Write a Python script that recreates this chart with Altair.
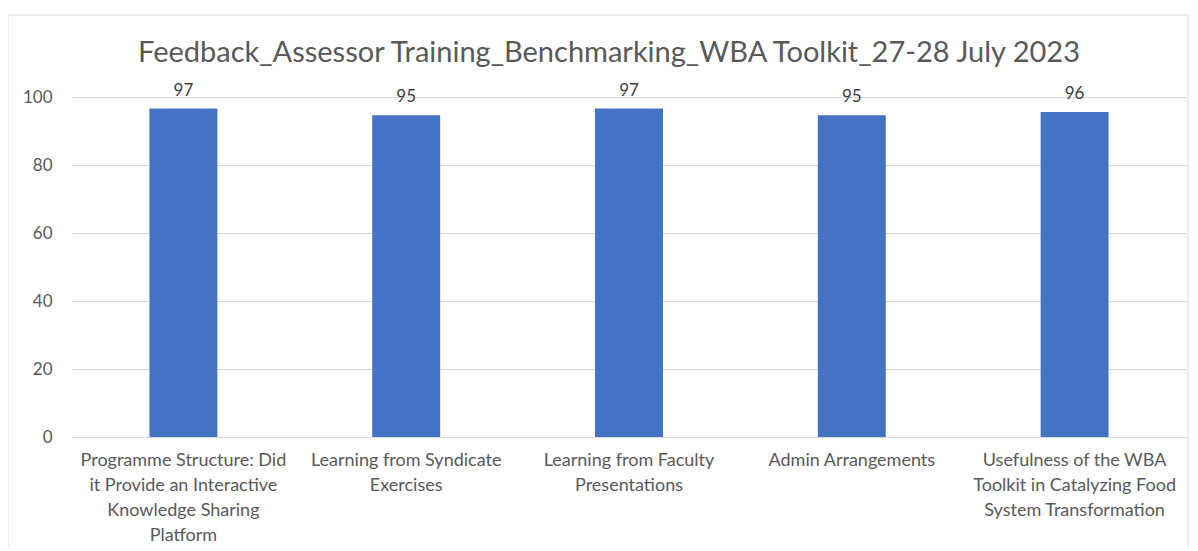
import altair as alt
import pandas as pd

categories = [
    "Programme Structure: Did it Provide an Interactive Knowledge Sharing Platform",
    "Learning from Syndicate Exercises",
    "Learning from Faculty Presentations",
    "Admin Arrangements",
    "Usefulness of the WBA Toolkit in Catalyzing Food System Transformation",
]
label_lines = [
    ["Programme Structure: Did", "it Provide an Interactive", "Knowledge Sharing", "Platform"],
    ["Learning from Syndicate", "Exercises"],
    ["Learning from Faculty", "Presentations"],
    ["Admin Arrangements"],
    ["Usefulness of the WBA", "Toolkit in Catalyzing Food", "System Transformation"],
]
values = [96.6, 94.6, 96.6, 94.6, 95.6]
y_ticks = [0, 20, 40, 60, 80, 100]
title_text = "Feedback_Assessor Training_Benchmarking_WBA Toolkit_27-28 July 2023"

df = pd.DataFrame({
    "category": categories,
    "label": ["|".join(l) for l in label_lines],
    "value": values,
})

FONT = "Lato"
GREY = "#595959"

x_enc = alt.X(
    "label:N",
    sort=None,
    title=None,
    scale=alt.Scale(paddingInner=0.695, paddingOuter=0.3475),
    axis=alt.Axis(
        labelExpr="split(datum.label, '|')",
        labelAngle=0,
        labelFont=FONT,
        labelFontSize=18,
        labelColor=GREY,
        labelLineHeight=25,
        labelBaseline="top",
        labelPadding=14,
        ticks=False,
        domain=False,
        grid=False,
        labelLimit=400,
    ),
)

bars = alt.Chart(df).mark_bar(color="#4472C4").encode(
    x=x_enc,
    y=alt.Y(
        "value:Q",
        title=None,
        scale=alt.Scale(domain=[0, 100], nice=False),
        axis=alt.Axis(
            values=y_ticks,
            labelFont=FONT,
            labelFontSize=17,
            labelColor=GREY,
            labelPadding=20,
            ticks=False,
            domain=False,
            gridColor="#d9d9d9",
            gridWidth=1,
        ),
    ),
)

text = alt.Chart(df).mark_text(
    font=FONT, fontSize=17, color="#404040", baseline="bottom", dy=-9
).encode(
    x=alt.X("label:N", sort=None),
    y="value:Q",
    text=alt.Text("value:Q", format=".0f"),
)

single = pd.DataFrame({"title": [title_text]})

border = alt.Chart(single).mark_rect(
    fill=None, stroke="#d9d9d9", strokeWidth=1
).encode(
    x=alt.value(-64),
    x2=alt.value(1116),
    y=alt.value(-82),
    y2=alt.value(480),
)

title = alt.Chart(single).mark_text(
    font=FONT, fontSize=29, color=GREY, baseline="alphabetic", align="center"
).encode(
    x=alt.value(537),
    y=alt.value(-35),
    text="title:N",
)

chart = alt.layer(border, bars, text, title).properties(
    width=1114,
    height=340,
    autosize=alt.AutoSizeParams(type="none"),
    padding={"left": 64, "top": 89, "right": 4, "bottom": 110},
).configure_view(stroke=None)

chart.save("out.html", embed_options={"renderer": "svg", "actions": False})
